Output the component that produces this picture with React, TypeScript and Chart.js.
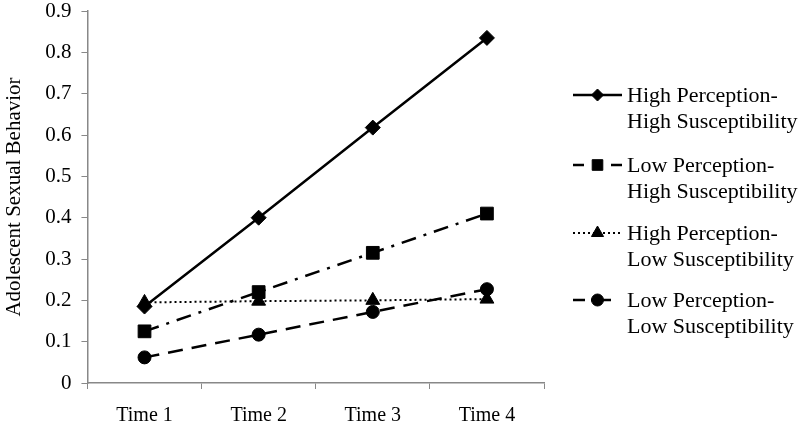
import React, { useEffect, useRef } from "react";
import { Chart, registerables } from "chart.js";

Chart.register(...registerables);

const categories = ["Time 1", "Time 2", "Time 3", "Time 4"];
const seriesLabels = [
  ["High Perception-", "High Susceptibility"],
  ["Low Perception-", "High Susceptibility"],
  ["High Perception-", "Low Susceptibility"],
  ["Low Perception-", "Low Susceptibility"],
];
const highPercHighSusc = [0.185, 0.4, 0.618, 0.835];
const lowPercHighSusc = [0.125, 0.22, 0.315, 0.41];
const highPercLowSusc = [0.195, 0.198, 0.2, 0.203];
const lowPercLowSusc = [0.062, 0.117, 0.172, 0.227];
const yTicks = [0, 0.1, 0.2, 0.3, 0.4, 0.5, 0.6, 0.7, 0.8, 0.9];

const FONT = "'Liberation Serif', 'DejaVu Serif', serif";

function drawMarker(ctx: CanvasRenderingContext2D, style: string, r: number, x: number, y: number) {
  ctx.beginPath();
  if (style === "circle") {
    ctx.arc(x, y, r, 0, Math.PI * 2);
  } else if (style === "rect") {
    const s = Math.SQRT1_2 * r;
    ctx.rect(x - s, y - s, 2 * s, 2 * s);
  } else if (style === "rectRot") {
    ctx.moveTo(x - r, y);
    ctx.lineTo(x, y - r);
    ctx.lineTo(x + r, y);
    ctx.lineTo(x, y + r);
    ctx.closePath();
  } else if (style === "triangle") {
    for (let k = 0; k < 3; k++) {
      const a = (k * 2 * Math.PI) / 3;
      const px = x + Math.sin(a) * r;
      const py = y - Math.cos(a) * r;
      if (k === 0) ctx.moveTo(px, py);
      else ctx.lineTo(px, py);
    }
    ctx.closePath();
  }
  ctx.fill();
  ctx.lineWidth = 1;
  ctx.stroke();
}

const legendPlugin = {
  id: "customLegend",
  afterDraw(chart: any) {
    const ctx = chart.ctx;
    const rows = [95, 165, 233, 300];
    chart.data.datasets.forEach((ds: any, i: number) => {
      const y = rows[i];
      ctx.save();
      ctx.strokeStyle = "#000";
      ctx.lineWidth = ds.borderWidth;
      ctx.setLineDash(ds.legendDash || []);
      ctx.beginPath();
      ctx.moveTo(573, y);
      ctx.lineTo(622, y);
      ctx.stroke();
      ctx.setLineDash([]);
      ctx.fillStyle = "#000";
      drawMarker(ctx, ds.pointStyle, ds.legendRadius, 597.5, y);
      ctx.font = `22px ${FONT}`;
      ctx.textBaseline = "middle";
      ctx.textAlign = "left";
      ctx.fillText(ds.labelLines[0], 627, y + 1);
      ctx.fillText(ds.labelLines[1], 627, y + 27);
      ctx.restore();
    });
  },
};

export default function App() {
  const ref = useRef<HTMLCanvasElement>(null);
  useEffect(() => {
    let chart: any = null;
    let cancelled = false;
    const build = () => {
      if (cancelled || !ref.current) return;
      const mk = (data: number[], i: number, style: string, r: number, lr: number, dash: number[], legendDash: number[], w: number) => ({
        label: seriesLabels[i].join(" "),
        labelLines: seriesLabels[i],
        data,
        borderColor: "#000",
        backgroundColor: "#000",
        pointBackgroundColor: "#000",
        pointBorderColor: "#000",
        pointBorderWidth: 1,
        borderWidth: w,
        borderDash: dash,
        legendDash,
        legendRadius: lr,
        pointStyle: style,
        pointRadius: r,
        tension: 0,
      });
      chart = new Chart(ref.current, {
        type: "line",
        data: {
          labels: categories,
          datasets: [
            mk(highPercHighSusc, 0, "rectRot", 7.5, 6, [], [], 2.5),
            mk(lowPercHighSusc, 1, "rect", 9, 7.5, [15, 8, 3, 8], [11, 27, 11], 2.5),
            mk(highPercLowSusc, 2, "triangle", 8, 7, [2, 3], [2, 3], 2),
            mk(lowPercLowSusc, 3, "circle", 6.5, 6, [15, 9], [12, 6, 20], 2.5),
          ] as any,
        },
        plugins: [legendPlugin as any],
        options: {
          responsive: false,
          animation: false,
          layout: { padding: { top: 0, right: 256, bottom: -18, left: 2 } },
          plugins: { legend: { display: false }, tooltip: { enabled: false } },
          scales: {
            x: {
              offset: true,
              border: { color: "#888", width: 1.5 },
              grid: { offset: true, drawOnChartArea: false, drawTicks: true, tickLength: 6, color: "#888" },
              ticks: { color: "#000", font: { family: FONT, size: 20 }, padding: 15 },
            },
            y: {
              min: 0,
              max: 0.9,
              afterBuildTicks: (axis: any) => {
                axis.ticks = yTicks.map((v) => ({ value: v }));
              },
              border: { color: "#888", width: 1.5 },
              grid: { drawOnChartArea: false, drawTicks: true, tickLength: 6, color: "#888" },
              ticks: {
                color: "#000",
                font: { family: FONT, size: 21, lineHeight: 0.1 },
                padding: 10,
                callback: (v: any) => String(Math.round(Number(v) * 10) / 10),
              },
              title: { display: true, text: "Adolescent Sexual Behavior", color: "#000", font: { family: FONT, size: 21 }, padding: { top: 0, bottom: 8 } },
            },
          },
        },
      });
    };
    const fonts: any = (document as any).fonts;
    if (fonts && fonts.load) {
      Promise.all([fonts.load("21px 'Liberation Serif'"), fonts.load("22px 'Liberation Serif'")])
        .catch(() => null)
        .then(() => build());
    } else {
      build();
    }
    return () => {
      cancelled = true;
      if (chart) chart.destroy();
    };
  }, []);
  return (
    <div style={{ position: "fixed", left: 0, top: 0, width: 800, height: 425, background: "#fff", fontFamily: FONT }}>
      <canvas ref={ref} width={800} height={425} style={{ width: 800, height: 425 }} />
    </div>
  );
}
